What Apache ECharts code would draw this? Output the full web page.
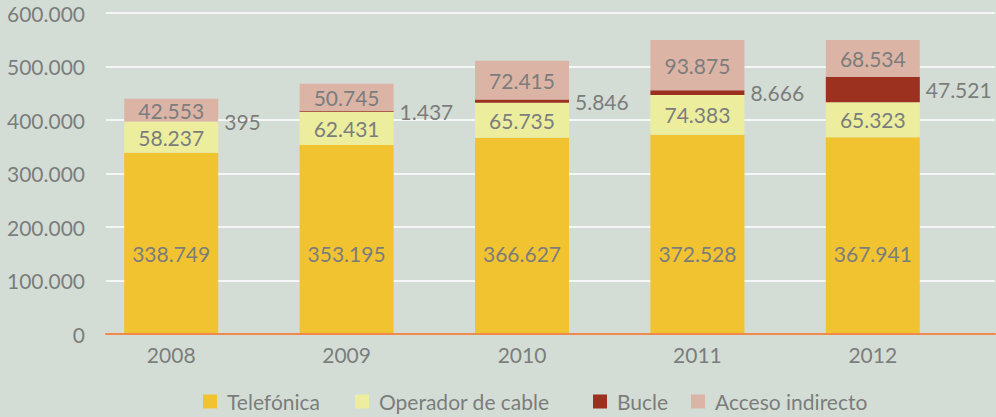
<!DOCTYPE html>
<html>
<head>
<meta charset="utf-8">
<script src="https://cdn.jsdelivr.net/npm/echarts@6/dist/echarts.min.js"></script>
<style>
  html, body { margin: 0; padding: 0; background: #d4ddd5; }
  #chart { width: 996px; height: 417px; }
</style>
</head>
<body>
<div id="chart"></div>
<script>
"use strict";

// datos (líneas en servicio)
const YEARS = ["2008", "2009", "2010", "2011", "2012"];
const TELEFONICA = [338749, 353195, 366627, 372528, 367941];
const CABLE = [58237, 62431, 65735, 74383, 65323];
const BUCLE = [395, 1437, 5846, 8666, 47521];
const ACCESO = [42553, 50745, 72415, 93875, 68534];
const Y_TICKS = [0, 100000, 200000, 300000, 400000, 500000, 600000];

const GREY = "#7b7d7d";
const FONT = "Lato, 'Open Sans', sans-serif";
const miles = v => String(v).replace(/\B(?=(\d{3})+(?!\d))/g, ".");

const chart = echarts.init(document.getElementById("chart"), null, { renderer: "svg" });

const lbl = (position, extra) => Object.assign({
  show: true, position, color: GREY, fontSize: 21, fontFamily: FONT,
  formatter: p => miles(p.value)
}, extra || {});

const serie = (name, data, color, label) => ({
  name, type: "bar", stack: "total", data,
  xAxisIndex: 1, yAxisIndex: 1,
  barWidth: 94,
  itemStyle: { color },
  label
});

const leg = (name, left) => ({
  data: [name], left, top: 386,
  itemWidth: 14, itemHeight: 14, icon: "rect",
  textStyle: { color: GREY, fontSize: 21, fontFamily: FONT, padding: [0, 0, 0, 5] }
});

chart.setOption({
  animation: false,
  backgroundColor: "#d4ddd5",
  textStyle: { fontFamily: FONT },
  legend: [
    leg("Telefónica", 198),
    leg("Operador de cable", 350),
    leg("Bucle", 588),
    leg("Acceso indirecto", 686)
  ],
  grid: [
    { left: 106, right: 1, top: 13, height: 321 },
    { left: 83.5, width: 877, top: 13, height: 321 }
  ],
  xAxis: [
    { gridIndex: 0, type: "value", min: 0, max: 1, z: 5,
      axisLine: { show: true, lineStyle: { color: "#ef8a4c", width: 2 } },
      axisTick: { show: false }, axisLabel: { show: false }, splitLine: { show: false } },
    { gridIndex: 1, type: "category", data: YEARS,
      axisLine: { show: false }, axisTick: { show: false },
      axisLabel: { color: GREY, fontSize: 21, fontFamily: FONT, margin: 10 } }
  ],
  yAxis: [
    { gridIndex: 0, type: "value", min: Y_TICKS[0], max: Y_TICKS[Y_TICKS.length - 1], interval: 100000,
      axisLine: { show: false }, axisTick: { show: false },
      axisLabel: { color: GREY, fontSize: 21, fontFamily: FONT, margin: 21, formatter: v => miles(v) },
      splitLine: { lineStyle: { color: "#ffffff", width: 1.5 } } },
    { gridIndex: 1, type: "value", min: Y_TICKS[0], max: Y_TICKS[Y_TICKS.length - 1],
      show: false, splitLine: { show: false } }
  ],
  series: [
    serie("Telefónica", TELEFONICA, "#f2c330", lbl("insideBottom", { distance: 70 })),
    serie("Operador de cable", CABLE, "#ecee9d", lbl("inside")),
    serie("Bucle", BUCLE, "#9c3120", lbl("right", { distance: 6 })),
    serie("Acceso indirecto", ACCESO, "#dcb4a6", lbl("inside"))
  ]
});
</script>
</body>
</html>
